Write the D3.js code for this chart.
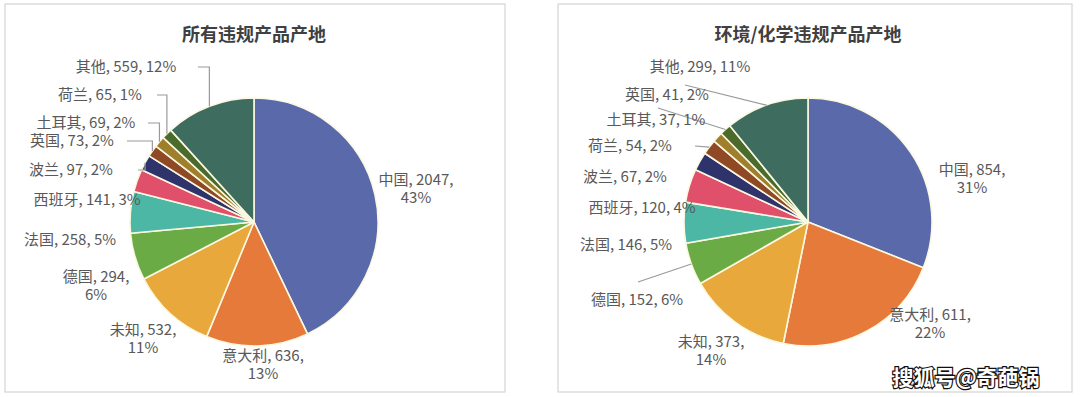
<!DOCTYPE html>
<html>
<head>
<meta charset="utf-8">
<script src="https://d3js.org/d3.v7.min.js"></script>
<style>
  body { margin: 0; background: #fff; }
  text { font-family: "Noto Sans CJK SC", "Noto Sans", sans-serif; }
</style>
</head>
<body>
<svg id="chart" width="1080" height="397"></svg>
<script>
// data
var namesAll = ["中国", "意大利", "未知", "德国", "法国", "西班牙", "波兰", "英国", "土耳其", "荷兰", "其他"];
var valuesAll = [2047, 636, 532, 294, 258, 141, 97, 73, 69, 65, 559];
var pctAll = [43, 13, 11, 6, 5, 3, 2, 2, 2, 1, 12];

var namesEnv = ["中国", "意大利", "未知", "德国", "法国", "西班牙", "波兰", "荷兰", "土耳其", "英国", "其他"];
var valuesEnv = [854, 611, 373, 152, 146, 120, 67, 54, 37, 41, 299];
var pctEnv = [31, 22, 14, 6, 5, 4, 2, 2, 1, 2, 11];

var titles = ["所有违规产品产地", "环境/化学违规产品产地"];

// slice colours by position
var colors = ["#5a69a9", "#e57a3b", "#e9a83b", "#6aab45", "#4bb7a4", "#e0506a",
              "#2f336c", "#8f4a25", "#a07f2c", "#4a6b2b", "#3e6d5f"];

var svg = d3.select("#chart");

// label layout: [center x, y of first line, wrapped?]
var labelPosAll = [[416, 180, 1], [263, 356, 1], [143, 330, 1], [96, 277, 1], [70, 240, 0], [87, 200, 0],
                   [71, 170, 0], [72, 141, 0], [86, 123, 0], [100, 95, 0], [126, 67, 0]];
var labelPosEnv = [[972, 170, 1], [930, 315, 1], [711, 342, 1], [637, 300, 0], [626, 245, 0], [642, 208, 0],
                   [625, 177, 0], [630, 146, 0], [656, 120, 0], [667, 95, 0], [700, 67, 0]];
// leader lines: index -> [start x, start y, elbow?]
var leadersAll = {10: [198, 67, 1], 9: [157, 95, 1], 8: [148, 123, 1], 7: [127, 141, 1], 6: [138, 170, 1]};
var leadersEnv = {10: [685, 85, 0], 9: [658, 108, 0], 7: [695, 146, 0], 3: [638, 282, 0]};

function drawPanel(opt) {
  var g = svg.append("g");

  g.append("rect")
    .attr("x", opt.box[0]).attr("y", opt.box[1])
    .attr("width", opt.box[2]).attr("height", opt.box[3])
    .attr("fill", "#fff")
    .attr("stroke", "#d4d4d4")
    .attr("stroke-width", 1.2);

  g.append("text")
    .attr("x", opt.cx).attr("y", 33)
    .attr("text-anchor", "middle")
    .attr("dominant-baseline", "central")
    .attr("font-size", 18)
    .attr("font-weight", "bold")
    .attr("fill", "#404040")
    .text(opt.title);

  var data = opt.names.map(function(n, i) {
    return {name: n, value: opt.values[i], pct: opt.pcts[i], i: i};
  });

  var pie = d3.pie().sort(null).value(function(d) { return d.value; });
  var arcs = pie(data);
  var r = 124;
  var arc = d3.arc().innerRadius(0).outerRadius(r);
  var edge = d3.arc().innerRadius(r).outerRadius(r);

  var pg = g.append("g").attr("transform", "translate(" + opt.cx + "," + opt.cy + ")");

  pg.selectAll("path.slice")
    .data(arcs)
    .enter()
    .append("path")
    .attr("class", "slice")
    .attr("d", arc)
    .attr("fill", function(d) { return colors[d.data.i]; })
    .attr("stroke", "#fbf8e2")
    .attr("stroke-width", 1.6)
    .attr("stroke-linejoin", "round");

  // leader lines
  var line = d3.line();
  Object.keys(opt.leaders).forEach(function(k) {
    var L = opt.leaders[k];
    var c = edge.centroid(arcs[k]);
    var ex = opt.cx + c[0], ey = opt.cy + c[1];
    var pts = L[2] ? [[L[0], L[1]], [ex, L[1]], [ex, ey]] : [[L[0], L[1]], [ex, ey]];
    g.append("path")
      .attr("d", line(pts))
      .attr("fill", "none")
      .attr("stroke", "#9a9a9a")
      .attr("stroke-width", 1.2);
  });

  // labels
  data.forEach(function(d, i) {
    var p = opt.labels[i];
    var t = g.append("text")
      .attr("text-anchor", "middle")
      .attr("font-size", 15)
      .attr("fill", "#595959");
    if (p[2]) {
      t.append("tspan").attr("x", p[0]).attr("y", p[1]).attr("dy", "0.35em")
        .text(d.name + ", " + d.value + ",");
      t.append("tspan").attr("x", p[0]).attr("y", p[1] + 18).attr("dy", "0.35em")
        .text(d.pct + "%");
    } else {
      t.append("tspan").attr("x", p[0]).attr("y", p[1]).attr("dy", "0.35em")
        .text(d.name + ", " + d.value + ", " + d.pct + "%");
    }
  });
}

drawPanel({box: [5, 4, 500, 388], cx: 254, cy: 222, title: titles[0],
           names: namesAll, values: valuesAll, pcts: pctAll,
           labels: labelPosAll, leaders: leadersAll});
drawPanel({box: [558, 4, 514, 388], cx: 808, cy: 222, title: titles[1],
           names: namesEnv, values: valuesEnv, pcts: pctEnv,
           labels: labelPosEnv, leaders: leadersEnv});

// source watermark
svg.append("text")
  .attr("x", 966).attr("y", 376)
  .attr("text-anchor", "middle")
  .attr("dominant-baseline", "central")
  .attr("font-size", 21)
  .attr("font-weight", "bold")
  .attr("fill", "#fff")
  .attr("stroke", "#111")
  .attr("stroke-width", 2.4)
  .attr("paint-order", "stroke")
  .text("搜狐号@奇葩锅");
</script>
</body>
</html>
